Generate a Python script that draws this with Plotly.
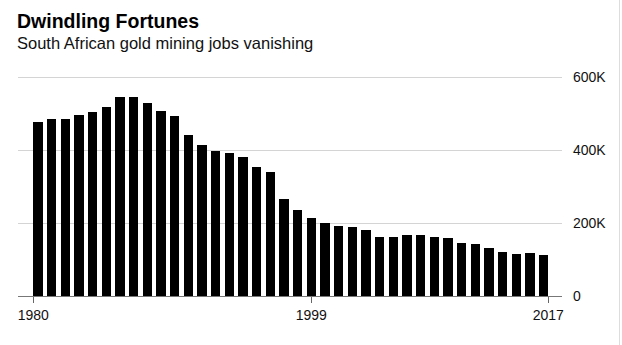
import plotly.graph_objects as go

# South African gold mining employment, 1980-2017
years = list(range(1980, 2018))
jobs = [
    478000, 486000, 486000, 497000, 503000, 519000, 544000, 544000, 528000, 508000,
    492000, 440000, 413000, 396000, 393000, 380000, 353000, 340000, 266000, 236000,
    214000, 200000, 193000, 189000, 181000, 162000, 162000, 168000, 168000, 162000,
    159000, 146000, 143000, 132000, 121000, 116000, 119000, 112000,
]

y_tickvals = [0, 200000, 400000, 600000]
y_ticktext = ["0", "200K", "400K", "600K"]
x_ticktext = ["1980", "1999", "2017"]

BAR_W = 0.68
FONT = "Liberation Sans, Arial, Helvetica, sans-serif"

# x ticks: outer edges of the first and last bars, plus one mid-series mark
x_tickvals = [years[0] - BAR_W / 2, 2000, years[-1] + BAR_W / 2]

fig = go.Figure(
    go.Bar(
        x=years,
        y=jobs,
        width=BAR_W,
        marker=dict(color="#000000", line=dict(width=0)),
        hoverinfo="x+y",
    )
)

L, R, T, B = 18, 60, 73, 49
W, H = 622, 345
plot_w = W - L - R
plot_h = H - T - B
# a few pixels of headroom so the 600K gridline is drawn at y=77
y_max = 600000 * plot_h / 219


def px_x(px):
    return (px - L) / plot_w


def px_y(py):
    return (H - B - py) / plot_h


fig.update_layout(
    width=W,
    height=H,
    margin=dict(l=L, r=R, t=T, b=B, pad=0),
    paper_bgcolor="white",
    plot_bgcolor="white",
    showlegend=False,
    bargap=0,
    font=dict(family=FONT, color="#000000", size=14),
    xaxis=dict(
        range=[1978.54, 2018.34],
        tickvals=x_tickvals,
        ticktext=x_ticktext,
        ticks="outside",
        ticklen=6,
        tickwidth=1,
        tickcolor="#666666",
        showline=True,
        linecolor="#777777",
        linewidth=1,
        showgrid=False,
        zeroline=False,
        tickfont=dict(size=14, color="#111111"),
        fixedrange=True,
    ),
    yaxis=dict(
        range=[0, y_max],
        side="right",
        tickvals=y_tickvals,
        ticktext=y_ticktext,
        ticks="",
        showgrid=True,
        gridcolor="#d4d4d4",
        gridwidth=1,
        zeroline=False,
        showline=False,
        ticklabelstandoff=10,
        tickfont=dict(size=14, color="#111111"),
        fixedrange=True,
    ),
    annotations=[
        dict(
            text="<b>Dwindling Fortunes</b>",
            xref="paper", yref="paper",
            x=px_x(15), y=px_y(21.2),
            xanchor="left", yanchor="middle",
            showarrow=False,
            font=dict(size=19.5, family=FONT, color="#000000"),
        ),
        dict(
            text="South African gold mining jobs vanishing",
            xref="paper", yref="paper",
            x=px_x(15), y=px_y(43.5),
            xanchor="left", yanchor="middle",
            showarrow=False,
            font=dict(size=16.5, family=FONT, color="#111111"),
        ),
    ],
    shapes=[
        dict(
            type="line",
            xref="paper", yref="paper",
            x0=px_x(619.5), x1=px_x(619.5),
            y0=px_y(H), y1=px_y(0),
            line=dict(color="#dddddd", width=1),
        )
    ],
)

fig.write_html("out.html")
